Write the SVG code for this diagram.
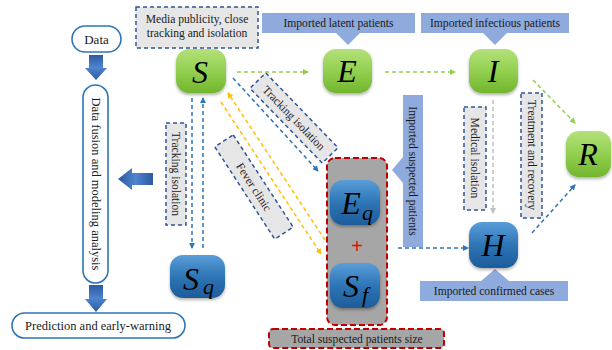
<svg xmlns="http://www.w3.org/2000/svg" width="612" height="350" viewBox="0 0 612 350">
<defs>
<linearGradient id="gG" x1="0" y1="0" x2="0" y2="1"><stop offset="0" stop-color="#b4e07a"/><stop offset="0.5" stop-color="#92d050"/><stop offset="1" stop-color="#72b52e"/></linearGradient>
<linearGradient id="gB" x1="0" y1="0" x2="0" y2="1"><stop offset="0" stop-color="#5a9ed8"/><stop offset="0.5" stop-color="#2e75b6"/><stop offset="1" stop-color="#1d5c9a"/></linearGradient>
<linearGradient id="gA" x1="0" y1="0" x2="1" y2="0"><stop offset="0" stop-color="#2c5aa0"/><stop offset="0.5" stop-color="#4f84cf"/><stop offset="1" stop-color="#2c5aa0"/></linearGradient>
<linearGradient id="gAv" x1="0" y1="0" x2="0" y2="1"><stop offset="0" stop-color="#2c5aa0"/><stop offset="0.5" stop-color="#4f84cf"/><stop offset="1" stop-color="#2c5aa0"/></linearGradient>
<filter id="sh" x="-20%" y="-20%" width="140%" height="150%"><feDropShadow dx="0" dy="2" stdDeviation="1.5" flood-color="#000" flood-opacity="0.3"/></filter>
<marker id="mB" markerWidth="6" markerHeight="6" refX="5" refY="3" orient="auto" markerUnits="userSpaceOnUse"><path d="M0,0 L6,3 L0,6 Z" fill="#2e75b6"/></marker>
<marker id="mG" markerWidth="6" markerHeight="6" refX="5" refY="3" orient="auto" markerUnits="userSpaceOnUse"><path d="M0,0 L6,3 L0,6 Z" fill="#92d050"/></marker>
<marker id="mY" markerWidth="6" markerHeight="6" refX="5" refY="3" orient="auto" markerUnits="userSpaceOnUse"><path d="M0,0 L6,3 L0,6 Z" fill="#ffc000"/></marker>
<marker id="mGr" markerWidth="6" markerHeight="6" refX="5" refY="3" orient="auto" markerUnits="userSpaceOnUse"><path d="M0,0 L6,3 L0,6 Z" fill="#bfbfbf"/></marker>
</defs>
<style>
text{font-family:"Liberation Serif","Times New Roman",serif;fill:#1a1a1a}
.t11{font-size:11.6px}
.t12{font-size:12.5px}
.nl{font-size:32px;font-style:italic;fill:#000}
.sub{font-size:22px;font-style:italic;fill:#000}
.pill{fill:#fff;stroke:#2e75b6;stroke-width:1.6}
.lab{fill:#e7e6e6;stroke:#2f5597;stroke-width:1.5;stroke-dasharray:4 3}
.imp{fill:#8faadc}
.ng{fill:url(#gG);filter:url(#sh)}
.nb{fill:url(#gB);filter:url(#sh)}
.ab{fill:url(#gA)}
.av{fill:url(#gAv)}
.db{fill:none;stroke:#2e75b6;stroke-width:1.5;stroke-dasharray:4 3;marker-end:url(#mB)}
.dg{fill:none;stroke:#92d050;stroke-width:1.5;stroke-dasharray:4 3;marker-end:url(#mG)}
.dy{fill:none;stroke:#ffc000;stroke-width:1.5;stroke-dasharray:4 3;marker-end:url(#mY)}
.dgr{fill:none;stroke:#bfbfbf;stroke-width:1.5;stroke-dasharray:4 3;marker-end:url(#mGr)}
</style>

<!-- left flow -->
<g id="data"><rect class="pill" x="72" y="26" width="49" height="26" rx="13"/><text x="96.5" y="43.5" text-anchor="middle" style="font-size:13px">Data</text></g>
<g id="arrow-data-down"><path class="av" d="M89,55 H103 V68 H107 L96,80 L85,68 H89 Z"/></g>
<g id="fusion"><rect class="pill" x="83" y="85" width="25" height="198" rx="12.5"/><text class="t12" transform="translate(92,184) rotate(90)" text-anchor="middle">Data fusion and modeling analysis</text></g>
<g id="arrow-fusion-down"><path class="av" d="M89,285 H103 V299 H107 L96,312 L85,299 H89 Z"/></g>
<g id="prediction"><rect class="pill" x="12" y="313" width="173" height="25" rx="12.5"/><text class="t12" x="98" y="330" text-anchor="middle">Prediction and early-warning</text></g>
<g id="arrow-left"><path class="ab" d="M153,173 V185 H132 V190 L118,179 L132,168 V173 Z"/></g>

<!-- imported callouts -->
<g id="imp-latent"><rect class="imp" x="262" y="13" width="153" height="20"/><path class="imp" d="M336,33 H360 L348,45 Z"/><text class="t11" x="338.5" y="27" text-anchor="middle">Imported latent patients</text></g>
<g id="imp-infectious"><rect class="imp" x="421" y="13" width="148" height="20"/><path class="imp" d="M483,33 H507 L495,45 Z"/><text class="t11" x="495" y="27" text-anchor="middle">Imported infectious patients</text></g>
<g id="imp-confirmed"><rect class="imp" x="420" y="281" width="148" height="20"/><path class="imp" d="M481,281 H509 L495,269 Z"/><text class="t11" x="494" y="295" text-anchor="middle">Imported confirmed cases</text></g>
<g id="imp-suspected"><path class="imp" d="M403,95 H423 V247 H403 V183 L392,170 L403,157 Z"/><text class="t11" transform="translate(409,171) rotate(90)" text-anchor="middle">Imported suspected patients</text></g>

<!-- suspected box -->
<g id="suspected-box"><rect x="327" y="158" width="60" height="167" rx="8" fill="#a6a6a6" stroke="#c00000" stroke-width="2" stroke-dasharray="6 3"/><text x="357" y="253" text-anchor="middle" style="font-size:20px;fill:#ff0000;font-family:'Liberation Sans',Arial,sans-serif">+</text></g>
<g id="total-label"><rect x="269" y="329" width="175" height="19" rx="4" fill="#a6a6a6" stroke="#c00000" stroke-width="2" stroke-dasharray="6 3"/><text class="t11" x="357" y="343" text-anchor="middle">Total suspected patients size</text></g>

<!-- labels -->
<g id="lab-media"><rect class="lab" x="136" y="7" width="122" height="41"/><text class="t11" x="197" y="23" text-anchor="middle">Media publicity, close</text><text class="t11" x="197" y="37" text-anchor="middle">tracking and isolation</text></g>
<g id="lab-track-v"><rect class="lab" x="166" y="123" width="20" height="102"/><text class="t11" transform="translate(172,174) rotate(90)" text-anchor="middle">Tracking isolation</text></g>
<g id="lab-track-d"><g transform="translate(294,118) rotate(46)"><rect class="lab" x="-52" y="-11" width="104" height="22"/><text class="t11" x="0" y="4" text-anchor="middle">Tracking isolation</text></g></g>
<g id="lab-fever"><g transform="translate(254,187) rotate(57)"><rect class="lab" x="-55" y="-11" width="110" height="22"/><text class="t11" x="0" y="4" text-anchor="middle">Fever clinic</text></g></g>
<g id="lab-medical"><rect class="lab" x="464" y="107" width="22" height="103"/><text class="t11" transform="translate(471,158) rotate(90)" text-anchor="middle">Medical isolation</text></g>
<g id="lab-treatment"><rect class="lab" x="521" y="93" width="21" height="125"/><text class="t11" transform="translate(527.5,155) rotate(90)" text-anchor="middle">Treatment and recovery</text></g>

<!-- connectors -->
<g id="connectors">
<line class="dg" x1="237" y1="72" x2="308" y2="72"/>
<line class="dg" x1="385" y1="72" x2="455" y2="72"/>
<line class="dg" x1="533" y1="80" x2="575" y2="123"/>
<line class="dgr" x1="493" y1="100" x2="493" y2="213"/>
<line class="db" x1="532" y1="233" x2="575" y2="185"/>
<line class="db" x1="398" y1="248" x2="468" y2="248"/>
<line class="db" x1="192" y1="98" x2="192" y2="248"/>
<line class="db" x1="203" y1="248" x2="203" y2="98"/>
<line class="db" x1="233" y1="78" x2="318" y2="171"/>
<line class="dy" x1="221" y1="102" x2="321" y2="254"/>
<line class="dy" x1="325" y1="240" x2="228" y2="93"/>
</g>

<!-- nodes -->
<g id="S"><rect class="ng" x="176" y="49" width="50" height="44" rx="13"/><text class="nl" x="200" y="83" text-anchor="middle">S</text></g>
<g id="E"><rect class="ng" x="323" y="49" width="49" height="44" rx="13"/><text class="nl" x="347" y="82" text-anchor="middle">E</text></g>
<g id="I"><rect class="ng" x="469" y="49" width="49" height="44" rx="13"/><text class="nl" x="493" y="82" text-anchor="middle">I</text></g>
<g id="R"><rect class="ng" x="566" y="131" width="45" height="46" rx="13"/><text class="nl" x="588" y="165" text-anchor="middle">R</text></g>
<g id="H"><rect class="nb" x="469" y="222" width="49" height="46" rx="13"/><text class="nl" x="493" y="256" text-anchor="middle">H</text></g>
<g id="Sq"><rect class="nb" x="170" y="255" width="55" height="43" rx="13"/><text class="nl" x="191" y="290" text-anchor="middle">S</text><text class="sub" x="203" y="294">q</text></g>
<g id="Eq"><rect class="nb" x="330" y="180" width="50" height="45" rx="13"/><text class="nl" x="351" y="214" text-anchor="middle">E</text><text class="sub" x="362" y="220">q</text></g>
<g id="Sf"><rect class="nb" x="330" y="263" width="50" height="45" rx="13"/><text class="nl" x="351" y="297" text-anchor="middle">S</text><text class="sub" x="362" y="302">f</text></g>
</svg>
